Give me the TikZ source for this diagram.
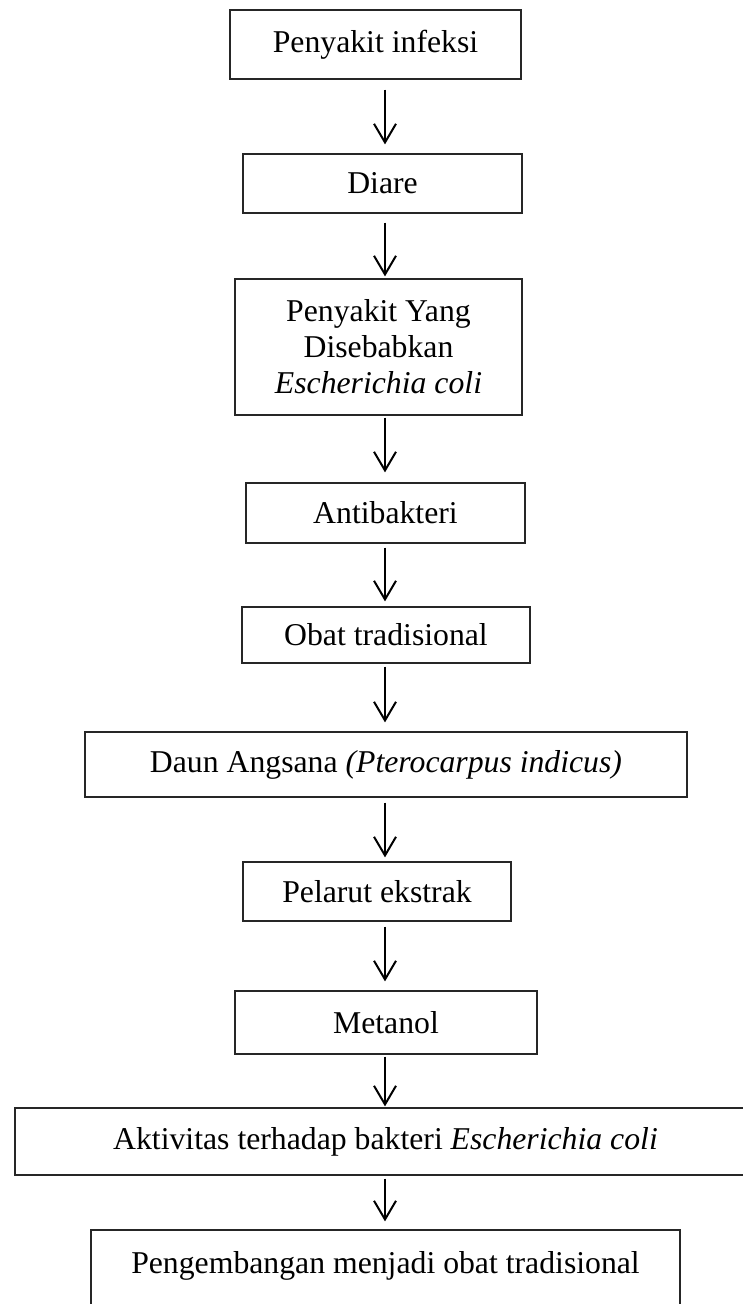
\documentclass[tikz,border=0pt]{standalone}
\usepackage{fontspec}
\setmainfont{Liberation Serif}
\usetikzlibrary{arrows.meta}
\begin{document}
\begin{tikzpicture}[x=0.75pt,y=-0.75pt,
  box/.style={draw=black!85,line width=0.9pt,rectangle,inner sep=0pt,align=center,
    font=\fontsize{23.8}{27}\selectfont},
  arr/.style={draw=black,line width=1.5pt,-{Straight Barb[length=14pt,width=16.5pt,line width=1.5pt]}}]
\useasboundingbox (0,0) rectangle (743,1304);
\clip (0,0) rectangle (743,1304);
\coordinate (ax) at (385,0);
\node[box,minimum width=218.25pt,minimum height=51.75pt] (b1) at (375.5,44.5) {Penyakit infeksi};
\node[box,minimum width=209.25pt,minimum height=44.25pt] (b2) at (382.5,183.5) {Diare};
\node[box,minimum width=215.25pt,minimum height=102pt] (b3) at (378.5,347) {Penyakit Yang\\Disebabkan\\\textit{Escherichia coli}};
\node[box,minimum width=209.25pt,minimum height=45pt] (b4) at (385.5,513) {Antibakteri};
\node[box,minimum width=216pt,minimum height=42pt] (b5) at (386,635) {Obat tradisional};
\node[box,minimum width=451.5pt,minimum height=48.75pt] (b6) at (386,764.5) {Daun Angsana \textit{(Pterocarpus indicus)}};
\node[box,minimum width=201pt,minimum height=44.25pt] (b7) at (377,891.5) {Pelarut ekstrak};
\node[box,minimum width=226.5pt,minimum height=47.25pt] (b8) at (386,1022.5) {Metanol};
\node[box,minimum width=555.75pt,minimum height=50.25pt] (b9) at (385.5,1141.5) {Aktivitas terhadap bakteri \textit{Escherichia coli}};
\node[box,minimum width=441.75pt,minimum height=75pt,text height=16.5pt,text depth=27pt] (b10) at (385.5,1280) {Pengembangan menjadi obat tradisional};
\draw[arr,shorten <=7.5pt,shorten >=6.75pt] (b1.south -| ax) -- (b2.north -| ax);
\draw[arr,shorten <=6.75pt,shorten >=1.5pt] (b2.south -| ax) -- (b3.north -| ax);
\draw[arr,shorten <=1.5pt,shorten >=7.5pt] (b3.south -| ax) -- (b4.north -| ax);
\draw[arr,shorten <=3pt,shorten >=3.75pt] (b4.south -| ax) -- (b5.north -| ax);
\draw[arr,shorten <=2.25pt,shorten >=6.75pt] (b5.south -| ax) -- (b6.north -| ax);
\draw[arr,shorten <=3.75pt,shorten >=3pt] (b6.south -| ax) -- (b7.north -| ax);
\draw[arr,shorten <=3.75pt,shorten >=6.75pt] (b7.south -| ax) -- (b8.north -| ax);
\draw[arr,shorten <=1.5pt,shorten >=0.75pt] (b8.south -| ax) -- (b9.north -| ax);
\draw[arr,shorten <=2.25pt,shorten >=6pt] (b9.south -| ax) -- (b10.north -| ax);
\end{tikzpicture}
\end{document}
